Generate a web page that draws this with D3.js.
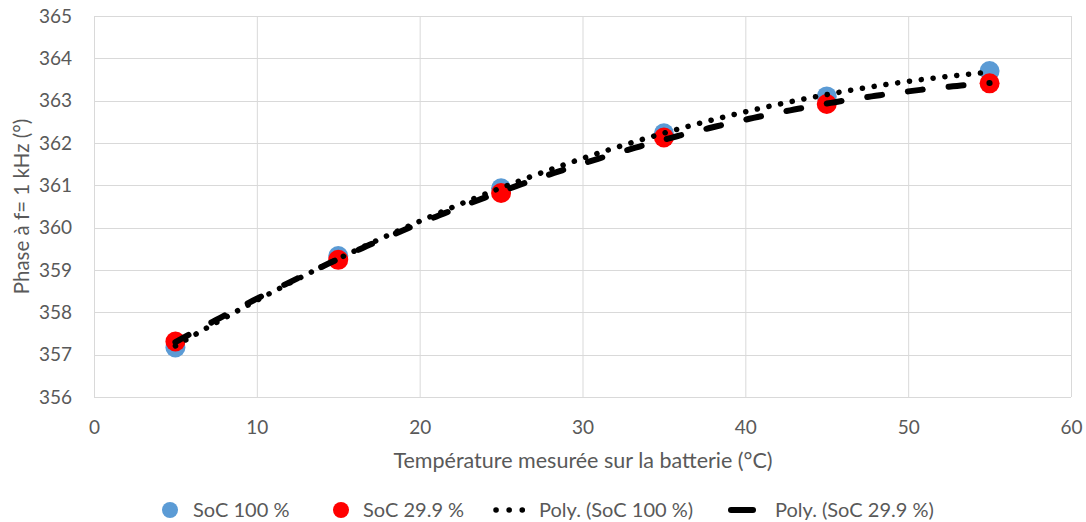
<!DOCTYPE html>
<html>
<head>
<meta charset="utf-8">
<script src="https://cdn.jsdelivr.net/npm/d3@7"></script>
<style>
  html, body { margin: 0; padding: 0; background: #fff; }
  text { font-family: Lato, "Open Sans", sans-serif; fill: #595959; }
</style>
</head>
<body>
<svg id="chart" width="1086" height="522"></svg>
<script>
// ---- data ----
const temperatures = [5, 15, 25, 35, 45, 55];
const soc100 = [357.17, 359.33, 360.93, 362.23, 363.1, 363.7];
const soc299 = [357.31, 359.24, 360.82, 362.13, 362.92, 363.41];
const xTicks = [0, 10, 20, 30, 40, 50, 60];
const yTicks = [356, 357, 358, 359, 360, 361, 362, 363, 364, 365];
const seriesNames = ["SoC 100 %", "SoC 29.9 %", "Poly. (SoC 100 %)", "Poly. (SoC 29.9 %)"];
const xTitle = "Température mesurée sur la batterie (°C)";
const yTitle = "Phase à f= 1 kHz (°)";

// ---- layout ----
const svg = d3.select("#chart");
const L = 94, R = 1071, T = 16, B = 397;
const x = d3.scaleLinear().domain([0, 60]).range([L, R]);
const y = d3.scaleLinear().domain([356, 365]).range([B, T]);

// gridlines
const g = svg.append("g");
g.selectAll("line.vx").data(xTicks).join("line")
  .attr("x1", d => x(d) + 0.5).attr("x2", d => x(d) + 0.5)
  .attr("y1", T).attr("y2", B)
  .attr("stroke", "#d9d9d9").attr("stroke-width", 1);
g.selectAll("line.hy").data(yTicks).join("line")
  .attr("y1", d => Math.round(y(d)) + 0.5).attr("y2", d => Math.round(y(d)) + 0.5)
  .attr("x1", L).attr("x2", R)
  .attr("stroke", "#d9d9d9").attr("stroke-width", 1);

// axes (labels only)
const xAxis = d3.axisBottom(x).tickValues(xTicks).tickSize(0).tickPadding(0).tickFormat(d3.format("d"));
const xa = svg.append("g").attr("transform", `translate(0,${B + 23})`).call(xAxis);
xa.select(".domain").remove();
xa.selectAll("text").attr("font-size", 19).attr("fill", "#595959").attr("font-family", "Lato");

const yAxis = d3.axisLeft(y).tickValues(yTicks).tickSize(0).tickPadding(0).tickFormat(d3.format("d"));
const ya = svg.append("g").attr("transform", `translate(72,0)`).call(yAxis);
ya.select(".domain").remove();
ya.selectAll("text").attr("font-size", 19).attr("fill", "#595959").attr("font-family", "Lato");

// titles
svg.append("text").attr("x", 583).attr("y", 468)
  .attr("text-anchor", "middle").attr("font-size", 21.5).text(xTitle);
svg.append("text").attr("transform", `translate(29,${(T + B) / 2}) rotate(-90)`)
  .attr("text-anchor", "middle").attr("font-size", 20.5).text(yTitle);

// ---- quadratic least-squares trendlines ----
function polyFit2(xs, ys) {
  const n = xs.length;
  let s = [0,0,0,0,0], t = [0,0,0];
  for (let i = 0; i < n; i++) {
    let p = 1;
    for (let k = 0; k < 5; k++) { s[k] += p; p *= xs[i]; }
    t[0] += ys[i]; t[1] += ys[i] * xs[i]; t[2] += ys[i] * xs[i] * xs[i];
  }
  const M = [[s[0], s[1], s[2], t[0]], [s[1], s[2], s[3], t[1]], [s[2], s[3], s[4], t[2]]];
  for (let i = 0; i < 3; i++) {
    for (let j = i + 1; j < 3; j++) {
      const f = M[j][i] / M[i][i];
      for (let k = i; k < 4; k++) M[j][k] -= f * M[i][k];
    }
  }
  const c = [0,0,0];
  for (let i = 2; i >= 0; i--) {
    let v = M[i][3];
    for (let k = i + 1; k < 3; k++) v -= M[i][k] * c[k];
    c[i] = v / M[i][i];
  }
  return xv => c[0] + c[1] * xv + c[2] * xv * xv;
}
const f100 = polyFit2(temperatures, soc100);
const f299 = polyFit2(temperatures, soc299);
const xs = d3.range(temperatures[0], temperatures[temperatures.length - 1] + 0.001, 0.25);
const line = d3.line().x(d => x(d[0])).y(d => y(d[1]));

// markers
svg.append("g").selectAll("circle").data(temperatures.map((t, i) => [t, soc100[i]])).join("circle")
  .attr("cx", d => x(d[0])).attr("cy", d => y(d[1])).attr("r", 10).attr("fill", "#5b9bd5");
svg.append("g").selectAll("circle").data(temperatures.map((t, i) => [t, soc299[i]])).join("circle")
  .attr("cx", d => x(d[0])).attr("cy", d => y(d[1])).attr("r", 10).attr("fill", "#ff0000");

// trendlines
svg.append("path").datum(xs.map(v => [v, f299(v)])).attr("d", line)
  .attr("fill", "none").attr("stroke", "#000").attr("stroke-width", 6)
  .attr("stroke-linecap", "round").attr("stroke-dasharray", "15 26");
svg.append("path").datum(xs.map(v => [v, f100(v)])).attr("d", line)
  .attr("fill", "none").attr("stroke", "#000").attr("stroke-width", 5.5)
  .attr("stroke-linecap", "round").attr("stroke-dasharray", "0.1 11.8");

// ---- legend ----
const ly = 510;
const lg = svg.append("g");
lg.append("circle").attr("cx", 170).attr("cy", ly).attr("r", 8).attr("fill", "#5b9bd5");
lg.append("text").attr("x", 193).attr("y", ly).attr("dy", "0.35em").attr("font-size", 20).text(seriesNames[0]);
lg.append("circle").attr("cx", 341).attr("cy", ly).attr("r", 8).attr("fill", "#ff0000");
lg.append("text").attr("x", 363).attr("y", ly).attr("dy", "0.35em").attr("font-size", 20).text(seriesNames[1]);
lg.append("line").attr("x1", 496).attr("x2", 523).attr("y1", ly).attr("y2", ly)
  .attr("stroke", "#000").attr("stroke-width", 5.5).attr("stroke-linecap", "round").attr("stroke-dasharray", "0.1 13");
lg.append("text").attr("x", 539).attr("y", ly).attr("dy", "0.35em").attr("font-size", 20).text(seriesNames[2]);
lg.append("line").attr("x1", 731).attr("x2", 753).attr("y1", ly).attr("y2", ly)
  .attr("stroke", "#000").attr("stroke-width", 6).attr("stroke-linecap", "round");
lg.append("text").attr("x", 775).attr("y", ly).attr("dy", "0.35em").attr("font-size", 20).text(seriesNames[3]);
</script>
</body>
</html>
